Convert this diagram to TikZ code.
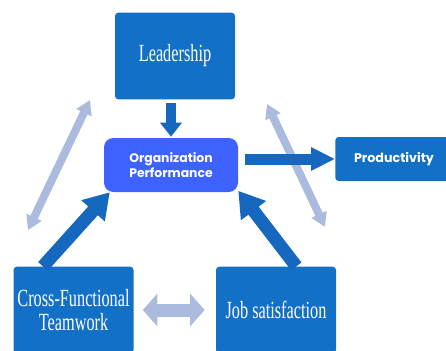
\documentclass[tikz,border=0pt]{standalone}
\usepackage{fontspec}
\usepackage{tikz}
\usetikzlibrary{arrows.meta}
\newfontfamily\boxfont{Liberation Serif}
\newfontfamily\perffont{Poppins}
\definecolor{boxblue}{RGB}{19,112,199}
\definecolor{arrowblue}{RGB}{22,104,190}
\definecolor{perfblue}{RGB}{61,98,255}
\definecolor{paleblue}{RGB}{170,187,222}
\newcommand{\narrow}[1]{\scalebox{0.66}[1]{#1}}

\begin{document}
\begin{tikzpicture}[x=0.75pt,y=-0.75pt,
    every node/.style={text=white,align=center,inner sep=0pt},
    bigbox/.style={fill=boxblue,rounded corners=2.5pt,minimum width=90pt,minimum height=65pt,
        font=\boxfont\fontsize{18.5}{18}\selectfont},
    perfbox/.style={fill=perfblue,rounded corners=7pt,minimum width=100.5pt,minimum height=40.5pt,
        font=\perffont\bfseries\fontsize{9.3}{11.5}\selectfont},
    prodbox/.style={fill=boxblue,rounded corners=2.5pt,minimum width=88pt,minimum height=33pt,
        font=\perffont\bfseries\fontsize{9.5}{11}\selectfont},
    darkarrow/.style={draw=arrowblue,line width=#1},
    palearrow/.style={draw=paleblue,line width=#1}]
    \clip (0,0) rectangle (446,350);

    \node[bigbox] (lead) at (175,56) {\narrow{Leadership}};
    \node[perfbox] (perf) at (171,165) {Organization\\Performance};
    \node[prodbox] (prod) at (394,159) {Productivity};
    \node[bigbox] (cross) at (73.5,310) {\narrow{Cross-Functional}\\\narrow{Teamwork}};
    \node[bigbox] (job) at (276,310) {\narrow{Job satisfaction}};

    % pale two-way arrows
    \coordinate (crossup) at (28,230);
    \coordinate (leadleft) at (90,100);
    \coordinate (leadright) at (267,104);
    \coordinate (jobup) at (325,227);
    \draw[palearrow=6pt,{Triangle[length=10.5pt,width=12pt]}-{Triangle[length=10.5pt,width=12pt]}] (crossup) -- (leadleft);
    \draw[palearrow=6pt,{Triangle[length=10.5pt,width=12pt]}-{Triangle[length=10.5pt,width=12pt]}] (leadright) -- (jobup);
    \draw[palearrow=9.75pt,{Triangle[length=11pt,width=24pt]}-{Triangle[length=11pt,width=24pt]},
        shorten <=6.75pt,shorten >=8.25pt] (cross.east) -- (job.west);

    % arrows into and out of performance
    \draw[darkarrow=7.5pt,-{Triangle[length=10.5pt,width=15.75pt]},shorten <=2.25pt,shorten >=0.75pt]
        (lead.south -| perf.north) -- (perf.north);
    \draw[darkarrow=8.25pt,-{Triangle[length=18pt,width=16.5pt]},shorten <=5.25pt]
        (perf.east |- prod.west) -- (prod.west);
    \draw[darkarrow=9.75pt,-{Triangle[length=18.75pt,width=22.5pt]}] (cross.125) -- (perf.204);
    \draw[darkarrow=9.75pt,-{Triangle[length=18.75pt,width=22.5pt]}] (job.65) -- (perf.339);
\end{tikzpicture}
\end{document}
